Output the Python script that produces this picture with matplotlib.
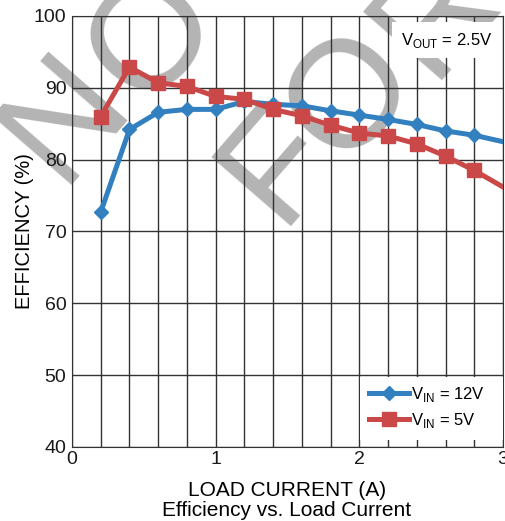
import matplotlib
matplotlib.use("Agg")
import matplotlib.pyplot as plt
from matplotlib.patches import Rectangle
from matplotlib.ticker import MultipleLocator

plt.rcParams["font.family"] = ["Liberation Sans", "DejaVu Sans"]

# load current (A)
load = [0.2, 0.4, 0.6, 0.8, 1.0, 1.2, 1.4, 1.6, 1.8, 2.0, 2.2, 2.4, 2.6, 2.8, 3.0]
# efficiency (%)
eff12 = [72.7, 84.2, 86.6, 87.0, 87.0, 88.1, 87.7, 87.5, 86.8, 86.2, 85.6, 84.9, 84.0, 83.4, 82.5]
eff5 = [86.0, 92.9, 90.7, 90.2, 88.8, 88.4, 87.0, 86.1, 84.8, 83.7, 83.3, 82.2, 80.5, 78.5, 76.2]

blue = "#3280c0"
red = "#ca4848"
grey = "#b4b4b4"

fig = plt.figure(figsize=(5.06, 5.21), dpi=100)
ax = fig.add_axes([72/506, 74/521, 431/506, 431/521])
ax.patch.set_alpha(0)

# watermark letters, behind everything
wm = [("N", 0.190, 0.724), ("O", 0.364, 0.879),
      ("F", 0.611, 0.635), ("O", 0.755, 0.765), ("R", 0.922, 0.925)]
for ch, wx, wy in wm:
    fig.text(wx, wy, ch, fontsize=110, color=grey, rotation=49,
             rotation_mode="anchor", ha="center", va="baseline", zorder=-5)

ax.plot(load, eff12, color=blue, lw=3.6, marker="D", ms=7.5, markevery=range(14),
        label="V$_{\\mathregular{IN}}$ = 12V", zorder=3)
ax.plot(load, eff5, color=red, lw=3.6, marker="s", ms=10.5, markevery=range(14),
        label="V$_{\\mathregular{IN}}$ = 5V", zorder=4)

ax.set_xlim(0, 3)
ax.set_ylim(40, 100)
ax.xaxis.set_major_locator(MultipleLocator(1))
ax.xaxis.set_minor_locator(MultipleLocator(0.2))
ax.yaxis.set_major_locator(MultipleLocator(10))
ax.grid(which="both", axis="x", color="#333333", lw=1)
ax.grid(which="major", axis="y", color="#333333", lw=1)
ax.tick_params(which="both", length=0, labelsize=14, colors="#1a1a1a")
ax.tick_params(axis="y", pad=4)
ax.tick_params(axis="x", pad=3)
for s in ax.spines.values():
    s.set_color("#333333")

ax.set_ylabel("EFFICIENCY (%)", fontsize=14.5, labelpad=0)
ax.set_xlabel("LOAD CURRENT (A)", fontsize=15, labelpad=9)
fig.text(0.567, 0.021, "Efficiency vs. Load Current", fontsize=15,
         ha="center", va="center")

ax.text((492 - 72) / 431, (447 - 40) / 431, "V$_{\\mathregular{OUT}}$ = 2.5V",
        transform=ax.transAxes, fontsize=12, ha="right", va="center",
        bbox=dict(facecolor="white", edgecolor="none", pad=6), zorder=6)

# white block behind the legend, reaching the right edge
ax.add_patch(Rectangle(((360 - 72) / 431, 7 / 431), (503 - 360) / 431, 63 / 431,
                       transform=ax.transAxes, facecolor="white",
                       edgecolor="none", zorder=5))
leg = ax.legend(loc="lower right", bbox_to_anchor=(1 - 8 / 431, 0.016),
                frameon=False, fontsize=12, handlelength=2.4, handletextpad=0.15,
                borderaxespad=0, borderpad=0.6, labelspacing=0.45)
leg.set_zorder(6)

fig.savefig("out.png", dpi=100)
